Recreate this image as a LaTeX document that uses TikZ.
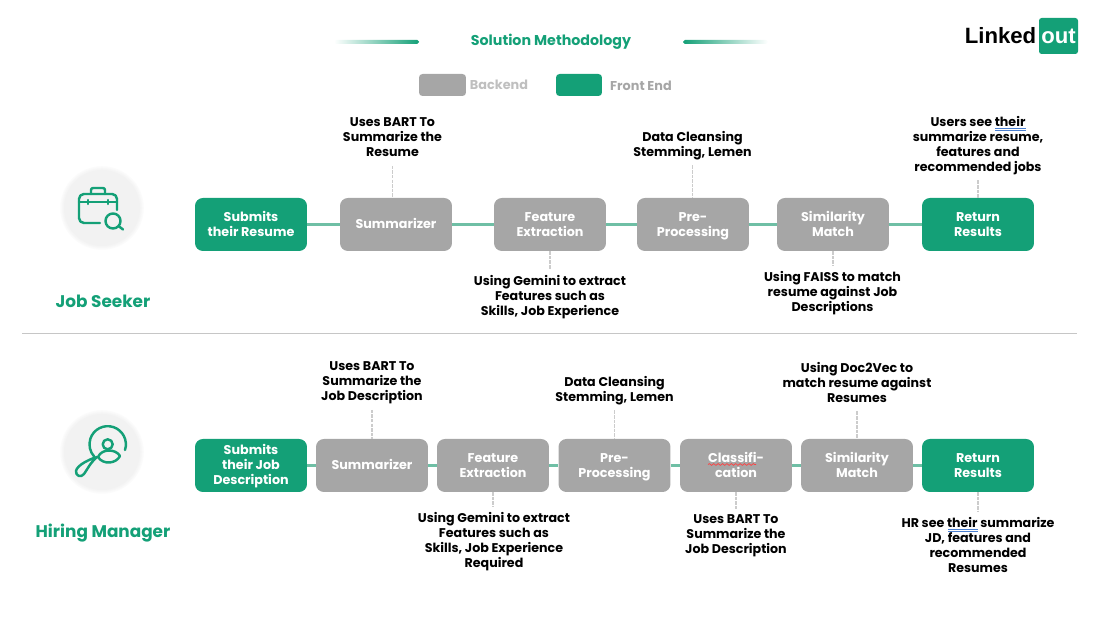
\documentclass[tikz,border=0pt]{standalone}
\usepackage{fontspec}
\setmainfont{Poppins}
\newfontfamily\logofont{Liberation Sans}
\usepackage{xcolor}
\usetikzlibrary{decorations.pathmorphing}
\definecolor{brandgreen}{HTML}{14A077}
\definecolor{linkgreen}{HTML}{6FBFA5}
\definecolor{boxgray}{HTML}{A6A6A6}
\definecolor{spellblue}{HTML}{4A7FD0}
\newcommand{\boxtop}{\rule{0pt}{7.5pt}}
\newcommand{\boxend}{\rule[-2.5pt]{0pt}{0pt}}
\tikzset{
  stepbox/.style={minimum width=2.24cm, minimum height=1.06cm, inner sep=0pt, rounded corners=4.5pt, align=center, text=white, font=\fontsize{7.25}{8.54}\selectfont\bfseries},
  backstep/.style={stepbox, fill=boxgray},
  frontstep/.style={stepbox, fill=brandgreen},
  notetext/.style={align=center, inner sep=3pt, font=\fontsize{7.2}{8.54}\selectfont\bfseries, execute at begin node=\vphantom{Ag}, execute at end node=\vphantom{Ag}},
  steplink/.style={linkgreen, line width=1.25pt},
  notelink/.style={gray!40, line width=0.9pt, dash pattern=on 2pt off 0.6pt},
  iconline/.style={brandgreen, line width=1.4pt, line cap=round, line join=round},
  rolelabel/.style={text=brandgreen, font=\fontsize{9.6}{11}\selectfont\bfseries},
}
\begin{document}
\begin{tikzpicture}[x=0.02cm,y=-0.02cm]
\useasboundingbox (0,0) rectangle (1107,617);
% title and legend
\shade[left color=white, right color=brandgreen, rounded corners=1pt] (334,40) rectangle (419,44);
\shade[left color=brandgreen, right color=white, rounded corners=1pt] (683,40) rectangle (768,44);
\node (title) at (551,42) [text=brandgreen, font=\fontsize{8.1}{10}\selectfont\bfseries] {Solution Methodology};
\node (backkey) at (442.5,85) [fill=boxgray, minimum width=0.94cm, minimum height=0.44cm, inner sep=0pt, rounded corners=2pt] {};
\node (backname) at (499,85) [text=gray!50, font=\fontsize{7.3}{9}\selectfont\bfseries] {Backend};
\node (frontkey) at (579,85) [fill=brandgreen, minimum width=0.92cm, minimum height=0.44cm, inner sep=0pt, rounded corners=2pt] {};
\node (frontname) at (641,85.5) [text=boxgray, font=\fontsize{7.3}{9}\selectfont\bfseries] {Front End};
% logo
\node (logobox) at (1058.5,36) [fill=brandgreen, minimum width=0.78cm, minimum height=0.72cm, inner sep=0pt, rounded corners=1.5pt, text=white, font=\logofont\fontsize{12.6}{14}\selectfont\bfseries] {out};
\node (logoname) at (1000.5,36) [font=\logofont\fontsize{12.6}{14}\selectfont\bfseries] {Linked};
% job seeker
\foreach \r/\c in {42/1,41/2,40/3,39/4,38/5}
  \fill[black!\c] (102,208) circle (\r);
\draw[iconline, rounded corners=2.8pt] (100,223) -- (79,223) -- (79,194) -- (117,194) -- (117,210);
\draw[iconline, rounded corners=1.2pt] (91,194) -- (91,188) -- (105,188) -- (105,194);
\draw[iconline] (79,202) -- (117,202);
\draw[iconline] (88,200) -- (88,204);
\draw[iconline] (108,200) -- (108,204);
\draw[iconline] (113,221) circle (7.5);
\draw[iconline] (118.5,226) -- (123,229.5);
\node (seeker) at (103,301) [rolelabel] {Job Seeker};
\node (s1) at (251,224.5) [frontstep] {\boxtop Submits\\their Resume\boxend};
\node (s2) at (396,224.5) [backstep] {\boxtop Summarizer\boxend};
\node (s3) at (550,224.5) [backstep] {\boxtop Feature\\Extraction\boxend};
\node (s4) at (693,224.5) [backstep] {\boxtop Pre-\\Processing\boxend};
\node (s5) at (833,224.5) [backstep] {\boxtop Similarity\\Match\boxend};
\node (s6) at (978,224.5) [frontstep] {\boxtop Return\\Results\boxend};
\draw[steplink] (s1)--(s2);
\draw[steplink] (s2)--(s3);
\draw[steplink] (s3)--(s4);
\draw[steplink] (s4)--(s5);
\draw[steplink] (s5)--(s6);
\node (n1) at (392.5,139) [notetext] {Uses BART To\\Summarize the\\Resume};
\node (n2) at (550,297) [notetext] {Using Gemini to extract\\Features such as\\Skills, Job Experience};
\node (n3) at (692.5,145.5) [notetext] {Data Cleansing\\Stemming, Lemen};
\node (n4) at (832.5,293) [notetext] {Using FAISS to match\\resume against Job\\Descriptions};
\node (n5) at (978,145.5) [notetext] {Users see their\\summarize resume,\\features and\\recommended jobs};
\draw[notelink] (n1.south) -- (n1.south |- s2.north);
\draw[notelink] (s3.south) -- (n2.north);
\draw[notelink] (n3.south) -- (n3.south |- s4.north);
\draw[notelink] (s5.south) -- (n4.north -| s5.south);
\draw[notelink] (n5.south) -- (s6.north);
\draw[spellblue, line width=0.35pt] (995,128) -- (1026,128) (995,130) -- (1026,130);
% divider
\draw[gray!45, line width=0.5pt] (22,333) -- (1077,333);
% hiring manager
\foreach \r/\c in {42/1,41/2,40/3,39/4,38/5}
  \fill[black!\c] (102,452) circle (\r);
\draw[iconline] (125,450) arc (18:-222:18.2);
\draw[iconline] (107.7,444.3) circle (5);
\draw[iconline] (98,457) .. controls (102,448) and (116,449) .. (120,456) .. controls (116,464) and (103,465) .. (98,457);
\draw[iconline] (97,457) .. controls (90,459) and (77,465) .. (76,471) .. controls (75.5,476) and (81,478) .. (84,474) .. controls (87,470) and (90,463) .. (97,457);
\node (manager) at (103,533) [rolelabel] {Hiring Manager};
\node (h1) at (251,465.5) [frontstep] {\boxtop Submits\\their Job\\Description\boxend};
\node (h2) at (372,465.5) [backstep] {\boxtop Summarizer\boxend};
\node (h3) at (493,465.5) [backstep] {\boxtop Feature\\Extraction\boxend};
\node (h4) at (614.5,465.5) [backstep] {\boxtop Pre-\\Processing\boxend};
\node (h5) at (736,465.5) [backstep] {\boxtop Classifi-\\cation\boxend};
\node (h6) at (857,465.5) [backstep] {\boxtop Similarity\\Match\boxend};
\node (h7) at (978,465.5) [frontstep] {\boxtop Return\\Results\boxend};
\draw[steplink] (h1)--(h2);
\draw[steplink] (h2)--(h3);
\draw[steplink] (h3)--(h4);
\draw[steplink] (h4)--(h5);
\draw[steplink] (h5)--(h6);
\draw[steplink] (h6)--(h7);
\draw[red!75, line width=0.4pt, decorate, decoration={snake, amplitude=0.5pt, segment length=2.5pt}] (708,464.5) -- (756,464.5);
\node (m1) at (372,383) [notetext] {Uses BART To\\Summarize the\\Job Description};
\node (m2) at (494,541.5) [notetext] {Using Gemini to extract\\Features such as\\Skills, Job Experience\\Required};
\node (m3) at (614.5,390.5) [notetext] {Data Cleansing\\Stemming, Lemen};
\node (m4) at (857,384) [notetext] {Using Doc2Vec to\\match resume against\\Resumes};
\node (m5) at (736,536) [notetext] {Uses BART To\\Summarize the\\Job Description};
\node (m6) at (978,546.5) [notetext] {HR see their summarize\\JD, features and\\recommended\\Resumes};
\draw[notelink] (m1.south) -- (h2.north);
\draw[notelink] (h3.south) -- (m2.north -| h3.south);
\draw[notelink] (m3.south) -- (h4.north);
\draw[notelink] (m4.south) -- (h6.north);
\draw[notelink] (h5.south) -- (m5.north);
\draw[notelink] (h7.south) -- (m6.north);
\draw[spellblue, line width=0.35pt] (948,529) -- (978,529) (948,531) -- (978,531);
\end{tikzpicture}
\end{document}
